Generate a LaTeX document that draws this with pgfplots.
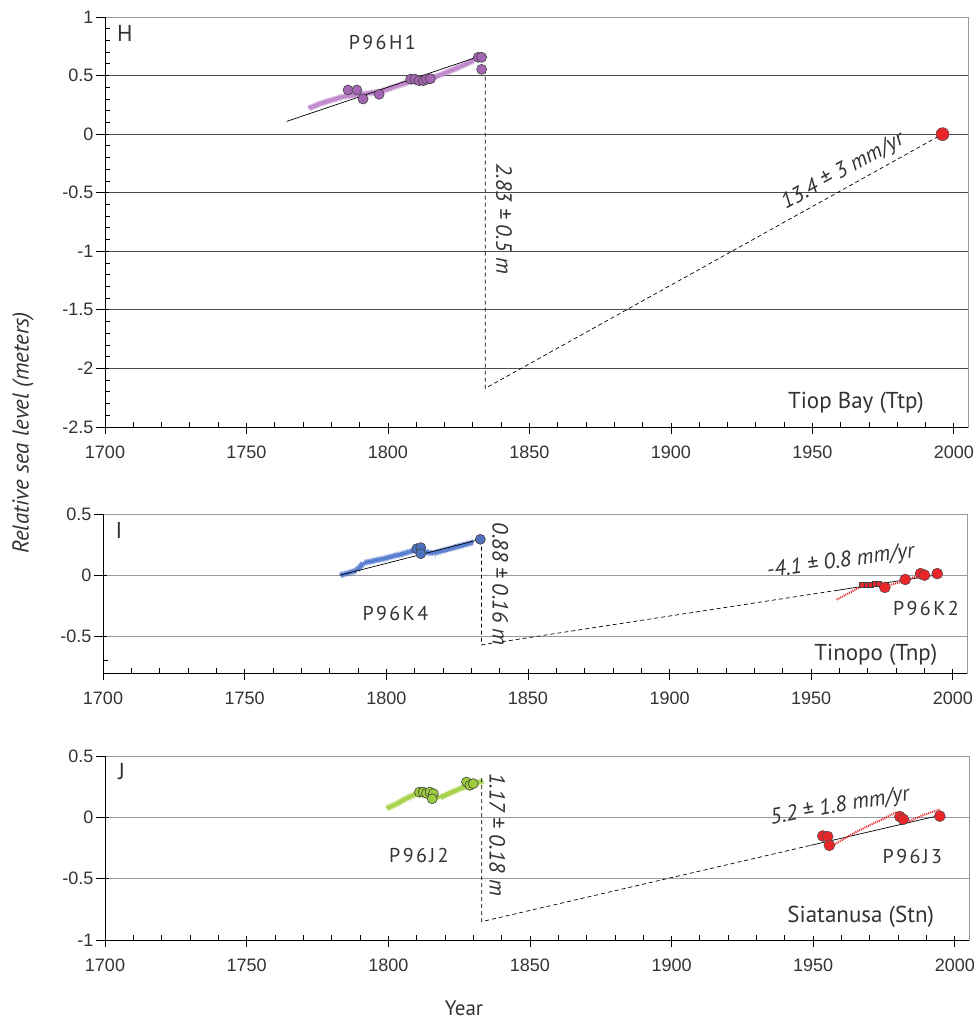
\documentclass[border=0pt]{standalone}
\usepackage{fontspec}
\setmainfont{Liberation Sans}
\newfontfamily\annfont{PT Sans}
\usepackage{pgfplots}
\pgfplotsset{compat=1.18}
\usetikzlibrary{decorations.pathmorphing}
\definecolor{purp}{HTML}{A466B2}
\definecolor{purpl}{HTML}{C08ACB}
\definecolor{bluec}{HTML}{4F72C0}
\definecolor{bluel}{HTML}{5A7ED0}
\definecolor{greenc}{HTML}{9CCB3E}
\definecolor{greenl}{HTML}{A8D24E}
\definecolor{redc}{HTML}{E8262A}
\definecolor{txt}{HTML}{333333}
\pgfplotsset{
  panel/.style={
    scale only axis, width=864pt, xmin=1700, xmax=2005,
    clip=false,
    xtick={1700,1750,1800,1850,1900,1950,2000},
    xticklabels={1700,1750,1800,1850,1900,1950,2000},
    minor x tick num=4,
    xtick pos=bottom, ytick pos=left,
    tick align=inside,
    major tick length=4pt, minor tick length=5pt,
    tick style={black, line width=0.8pt},
    extra x ticks={1700,1750,1800,1850,1900,1950,2000},
    extra x tick labels={},
    extra x tick style={tick align=outside, major tick length=7pt, grid=none},
    ymajorgrids,
    axis line style={draw=gray!80, line width=0.9pt},
    ticklabel style={font=\fontsize{18}{20}\selectfont, text=txt},
    xticklabel style={yshift=-15pt},
    yticklabel style={xshift=-8pt},
  },
  trend/.style={line width=0.9pt, decorate, decoration={zigzag, segment length=1.1pt, amplitude=1.3pt}},
}
\tikzset{
  ann/.style={font=\annfont\fontsize{23}{25}\selectfont, text=txt},
  anni/.style={font=\annfont\itshape\fontsize{22}{24}\selectfont, text=txt},
  samp/.style={font=\annfont\fontsize{20}{22}\selectfont\addfontfeature{LetterSpace=12}, text=txt},
}
\begin{document}
\begin{tikzpicture}[x=1pt,y=1pt]
\path (0,0) rectangle (977,-1021);

% ---------------- Panel H
\begin{axis}[panel, at={(105pt,-17pt)}, anchor=north west, height=410pt, width=863pt,
  ymin=-2.5, ymax=1,
  ytick={-2.5,-2,-1.5,-1,-0.5,0,0.5,1},
  yticklabels={-2.5,-2,-1.5,-1,-0.5,0,0.5,1},
  minor y tick num=4,
  major grid style={black!70, line width=0.9pt},
  extra y ticks={-2.5,-2,-1.5,-1,-0.5,0,0.5,1},
  extra y tick labels={},
  extra y tick style={tick align=outside, major tick length=9pt, grid=none},
]
\addplot[purpl, trend] coordinates {
(1772,0.22) (1776,0.26) (1780,0.29) (1784,0.32) (1790,0.34) (1797,0.36) (1803,0.41)
(1808,0.45) (1813,0.46) (1818,0.50) (1824,0.56) (1830.5,0.63)};
\addplot[black, line width=0.7pt] coordinates {(1764.2,0.109) (1831.3,0.656)};
\addplot[only marks, mark=*, mark size=5pt, mark options={fill=purp, draw=black!75, line width=0.6pt}] coordinates {
(1785.9,0.377) (1789,0.377) (1791.2,0.30) (1796.9,0.34) (1808,0.47) (1809.5,0.47)
(1811,0.456) (1812.5,0.456) (1813.6,0.468) (1815,0.473) (1833.1,0.553) (1831.9,0.656) (1833.1,0.656)};
\addplot[black, line width=0.7pt, dash pattern=on 4pt off 3pt] coordinates {
(1834.4,0.55) (1834.4,-2.17) (1996,0)};
\addplot[only marks, mark=*, mark size=6.5pt, mark options={fill=redc, draw=black!70, line width=0.5pt}] coordinates {(1996,0)};
\node[ann] at (axis cs:1707,0.86) {H};
\node[samp] at (axis cs:1798,0.78) {P96H1};
\node[anni, rotate=-90] at (axis cs:1841,-0.724) {2.83 ± 0.5 m};
\node[anni, rotate=29] at (axis cs:1960.8,-0.32) {13.4 ± 3 mm/yr};
\node[ann] at (axis cs:1965.4,-2.29) {Tiop Bay (Ttp)};
\draw[black, line width=0.9pt] (rel axis cs:0,1) -- (rel axis cs:0,0) -- (rel axis cs:1,0);
\end{axis}

% ---------------- Panel I
\begin{axis}[panel, at={(103pt,-514pt)}, anchor=north west, height=159pt,
  ymin=-0.8, ymax=0.5,
  ytick={-0.5,0,0.5}, yticklabels={-0.5,0,0.5},
  minor ytick={-0.7},
  major grid style={black!40, line width=0.9pt},
  extra y ticks={-0.5,0,0.5},
  extra y tick labels={},
  extra y tick style={tick align=outside, major tick length=9pt, grid=none},
]
\addplot[bluel, trend] coordinates {
(1783.7,0.0) (1787,0.02) (1789.6,0.04) (1792,0.10) (1799,0.135) (1805,0.17) (1809.6,0.20)
(1816.7,0.18) (1823,0.22) (1830.9,0.27)};
\addplot[black, line width=0.7pt] coordinates {(1783.7,0) (1833.2,0.293)};
\addplot[only marks, mark=*, mark size=5pt, mark options={fill=bluec, draw=black!75, line width=0.6pt}] coordinates {
(1810.8,0.217) (1812.2,0.225) (1812.2,0.176) (1833.2,0.293)};
\addplot[black, line width=0.7pt, dash pattern=on 4pt off 3pt] coordinates {
(1833.6,0.29) (1833.6,-0.57) (1958,-0.128)};
\addplot[black, line width=0.7pt] coordinates {(1958,-0.128) (1994,0)};
\addplot[redc, line width=2pt, dash pattern=on 1pt off 1pt] coordinates {
(1959,-0.2) (1963,-0.15) (1967,-0.1) (1972,-0.08) (1978,-0.08) (1984,-0.04) (1988,0.0)};
\addplot[only marks, mark=square*, mark size=2.5pt, mark options={fill=redc, draw=black!75, line width=0.5pt}] coordinates {
(1968,-0.08) (1969.5,-0.075) (1971,-0.075) (1972.5,-0.07) (1974,-0.07)};
\addplot[only marks, mark=*, mark size=5.5pt, mark options={fill=redc, draw=black!70, line width=0.5pt}] coordinates {
(1976,-0.10) (1983.2,-0.035) (1988.6,0.013) (1990,0) (1994.5,0.013)};
\node[ann] at (axis cs:1705.6,0.366) {I};
\node[samp] at (axis cs:1803.2,-0.317) {P96K4};
\node[anni, rotate=-90] at (axis cs:1840.3,-0.073) {0.88 ± 0.16 m};
\node[anni, rotate=8] at (axis cs:1960.4,0.108) {-4.1 ± 0.8 mm/yr};
\node[samp] at (axis cs:1990.5,-0.276) {P96K2};
\node[ann] at (axis cs:1972.8,-0.65) {Tinopo (Tnp)};
\draw[black, line width=0.9pt] (rel axis cs:0,1) -- (rel axis cs:0,0) -- (rel axis cs:1,0);
\end{axis}

% ---------------- Panel J
\begin{axis}[panel, at={(105pt,-756pt)}, anchor=north west, height=184pt,
  ymin=-1, ymax=0.5,
  ytick={-1,-0.5,0,0.5}, yticklabels={-1,-0.5,0,0.5},
  major grid style={black!40, line width=0.9pt},
  extra y ticks={-1,-0.5,0,0.5},
  extra y tick labels={},
  extra y tick style={tick align=outside, major tick length=9pt, grid=none},
]
\addplot[greenl, trend] coordinates {
(1799.4,0.073) (1803,0.11) (1806,0.15) (1809.4,0.187) (1813,0.19) (1818.2,0.16)
(1822,0.20) (1826,0.24) (1830,0.27) (1833.5,0.296)};
\addplot[only marks, mark=*, mark size=5pt, mark options={fill=greenc, draw=black!75, line width=0.6pt}] coordinates {
(1811,0.206) (1812.3,0.206) (1813.5,0.196) (1814.7,0.206) (1815.9,0.193) (1815.5,0.152)
(1827.6,0.288) (1828.8,0.261) (1830,0.275)};
\addplot[black, line width=0.7pt, dash pattern=on 4pt off 3pt] coordinates {
(1833,0.32) (1833,-0.85) (1949,-0.229)};
\addplot[black, line width=0.7pt] coordinates {(1949,-0.229) (1994.7,0.016)};
\addplot[redc, line width=2pt, dash pattern=on 1pt off 1pt] coordinates {
(1957.6,-0.22) (1964.7,-0.125) (1969.4,-0.07) (1975,-0.01) (1979.4,0.043) (1982,0.02)
(1984.1,-0.03) (1989,0.02) (1994.7,0.065)};
\addplot[only marks, mark=*, mark size=5.5pt, mark options={fill=redc, draw=black!70, line width=0.5pt}] coordinates {
(1953.4,-0.152) (1955.1,-0.157) (1955.7,-0.228) (1980.6,0.006) (1981.8,-0.016) (1994.7,0.01)};
\node[ann] at (axis cs:1705.9,0.372) {J};
\node[samp] at (axis cs:1810.8,-0.307) {P96J2};
\node[anni, rotate=-90] at (axis cs:1838.5,-0.14) {1.17 ± 0.18 m};
\node[anni, rotate=10] at (axis cs:1959.4,0.087) {5.2 ± 1.8 mm/yr};
\node[samp] at (axis cs:1985,-0.323) {P96J3};
\node[ann] at (axis cs:1966.8,-0.81) {Siatanusa (Stn)};
\draw[black, line width=0.9pt] (rel axis cs:0,1) -- (rel axis cs:0,0) -- (rel axis cs:1,0);
\end{axis}

\node[font=\annfont\itshape\fontsize{23}{25}\selectfont, text=txt, rotate=90] at (23,-433) {Relative sea level (meters)};
\node[font=\annfont\fontsize{21}{23}\selectfont, text=txt, inner sep=1pt] at (464,-1008) {Year};
\end{tikzpicture}
\end{document}
